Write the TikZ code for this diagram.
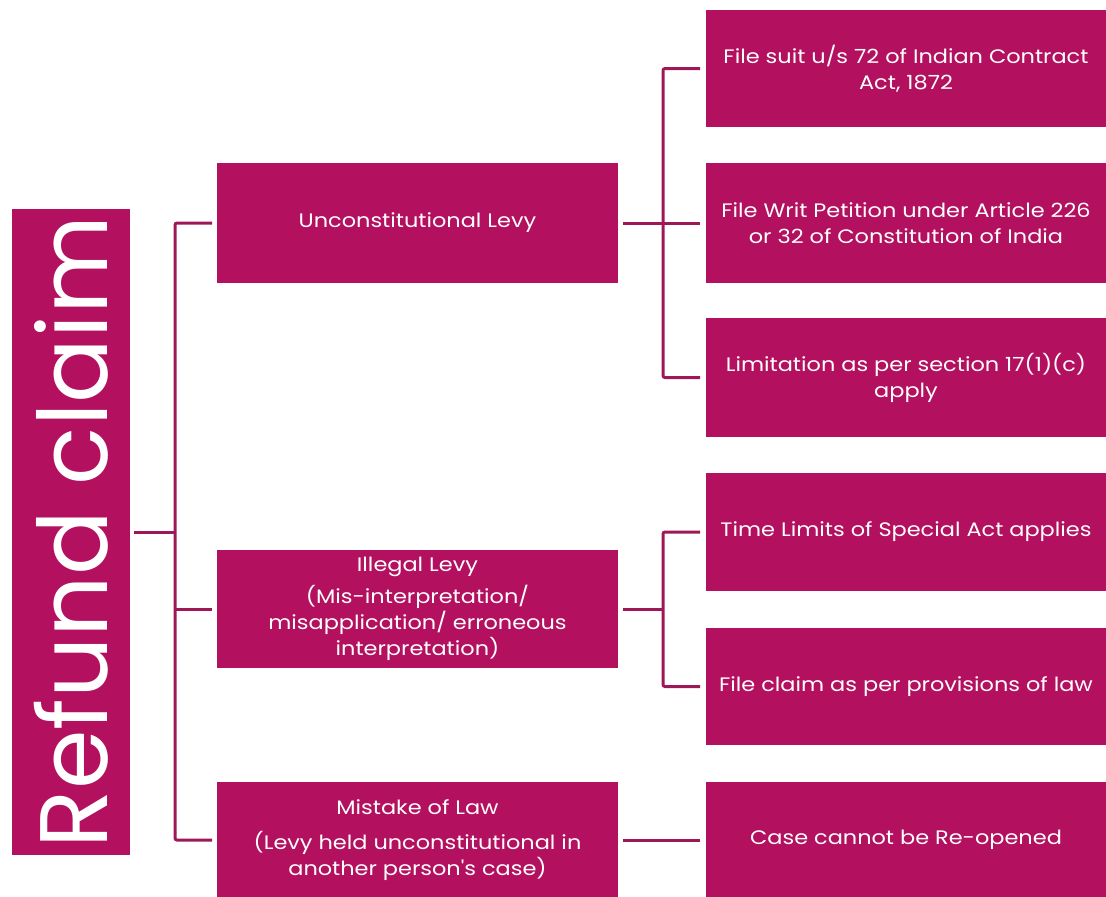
\documentclass[tikz,border=0pt]{standalone}
\usepackage{fontspec}
\newfontfamily\pfont{Poppins}[FakeStretch=1.15]
\newfontfamily\bigfont{Poppins}
\definecolor{boxc}{HTML}{B3105F}
\definecolor{lnc}{HTML}{9E1858}
\begin{document}
\begin{tikzpicture}[x=1pt,y=-1pt,
  bx/.style={fill=boxc, text=white, inner sep=0pt, outer sep=0pt, minimum width=401pt, minimum height=118pt, align=center, font=\pfont\fontsize{19.5}{26}\selectfont},
  conn/.style={draw=lnc, line width=3pt, rounded corners=2pt}]
\useasboundingbox (0,0) rectangle (1106,897);
% left
\node[fill=boxc, text=white, inner sep=0pt, outer sep=0pt, rotate=90, minimum width=646pt, minimum height=118pt, font=\bigfont\fontsize{96}{100}\selectfont] (L) at (71,532) {Refund claim};
% middle
\node[bx, minimum height=120pt] (m1) at (417.5,223) {Unconstitutional Levy};
\node[bx] (m2) at (417.5,609) {Illegal Levy\\[6pt](Mis-interpretation/\\misapplication/ erroneous\\interpretation)};
\node[bx, minimum height=116pt] (m3) at (417.5,840) {Mistake of Law\\[9pt](Levy held unconstitutional in\\another person's case)};
% right
\node[bx, minimum width=400pt, minimum height=117pt] (r1) at (906,68.5) {File suit u/s 72 of Indian Contract\\Act, 1872};
\node[bx, minimum width=400pt, minimum height=120pt] (r2) at (906,223) {File Writ Petition under Article 226\\or 32 of Constitution of India};
\node[bx, minimum width=400pt, minimum height=119pt] (r3) at (906,377.5) {Limitation as per section 17(1)(c)\\apply};
\node[bx, minimum width=400pt] (r4) at (906,532) {Time Limits of Special Act applies};
\node[bx, minimum width=400pt, minimum height=117pt] (r5) at (906,686.5) {File claim as per provisions of law};
\node[bx, minimum width=400pt, minimum height=116pt] (r6) at (906,840) {Case cannot be Re-opened};
% connectors
\draw[conn] ([xshift=4pt]L.south) -- ([xshift=45pt]L.south);
\draw[conn] ([xshift=-5pt]m1.west) -| ([xshift=-42pt]m3.west) -- ([xshift=-5pt]m3.west);
\draw[conn] ([xshift=-42pt]m2.west) -- ([xshift=-5pt]m2.west);
\draw[conn] ([xshift=5pt]m1.east) -- ([xshift=45pt]m1.east);
\draw[conn] ([xshift=-6pt]r1.west) -| ([xshift=-43pt]r3.west) -- ([xshift=-6pt]r3.west);
\draw[conn] ([xshift=-43pt]r2.west) -- ([xshift=-6pt]r2.west);
\draw[conn] ([xshift=5pt]m2.east) -- ([xshift=45pt]m2.east);
\draw[conn] ([xshift=-6pt]r4.west) -| ([xshift=-43pt]r5.west) -- ([xshift=-6pt]r5.west);
\draw[conn] ([xshift=5pt]m3.east) -- ([xshift=-6pt]r6.west);
\end{tikzpicture}
\end{document}
